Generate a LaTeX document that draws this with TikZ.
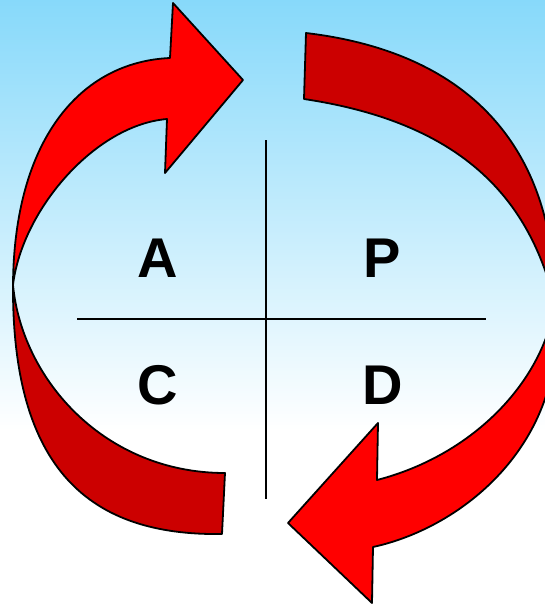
\documentclass[tikz,border=0pt]{standalone}
\usepackage{fontspec}
\setmainfont{Liberation Sans}
\usepackage{xcolor}
\usepackage{tikz}
\definecolor{skyblue}{RGB}{135, 217, 250}
\definecolor{arrowred}{RGB}{255, 0, 0}
\definecolor{arrowdark}{RGB}{204, 0, 0}
\tikzset{
    frontface/.style={fill=arrowred, draw=black, line width=1.8pt, line join=round},
    backface/.style={fill=arrowdark, draw=black, line width=1.8pt, line join=round},
    quadlabel/.style={font=\fontsize{56}{60}\selectfont\bfseries, anchor=base, inner sep=0pt},
    crossline/.style={draw=black, line width=1.8pt}
}

\begin{document}
\begin{tikzpicture}[x=1pt, y=-1pt]
    \useasboundingbox (0,0) rectangle (545,606);
    \clip (0,0) rectangle (545,606);

    % Background gradient (sky blue fading to white)
    \shade[top color=skyblue, bottom color=white] (0,0) rectangle (545,430);
    \fill[white] (0,430) rectangle (545,606);

    % Key points of the left arrow
    \coordinate (LPinch) at (13,285);
    \coordinate (LTailOut) at (222,534);
    \coordinate (LTailIn) at (225,473);
    \coordinate (LHeadOut) at (170,58);
    \coordinate (LHeadIn) at (167,119);
    \coordinate (LBarbTop) at (173,3);
    \coordinate (LTip) at (243,80);
    \coordinate (LBarbBot) at (165,173);

    % Key points of the right arrow
    \coordinate (RPinch) at (555,304);
    \coordinate (RTailOut) at (306,33);
    \coordinate (RTailIn) at (304,99);
    \coordinate (RHeadOut) at (373,547);
    \coordinate (RHeadIn) at (377,480);
    \coordinate (RBarbTop) at (378,423);
    \coordinate (RTip) at (288,523);
    \coordinate (RBarbBot) at (372,603);

    % Cross lines
    \draw[crossline] (266,140) -- (266,499);
    \draw[crossline] (77,319) -- (486,319);

    % Left arrow: back face (tail) and front face (head)
    \draw[backface] (LPinch) .. controls (12,470) and (90,536) .. (LTailOut)
        -- (LTailIn) .. controls (105,473) and (22,380) .. (LPinch) -- cycle;
    \draw[frontface] (LPinch) .. controls (14,140) and (80,62) .. (LHeadOut)
        -- (LBarbTop) -- (LTip) -- (LBarbBot) -- (LHeadIn)
        .. controls (95,125) and (22,210) .. (LPinch) -- cycle;

    % Right arrow: back face (tail) and front face (head)
    \draw[backface] (RTailOut) .. controls (466,52) and (555,144) .. (RPinch)
        .. controls (530,200) and (464,123) .. (RTailIn) -- cycle;
    \draw[frontface] (RPinch) .. controls (570,440) and (465,527) .. (RHeadOut)
        -- (RBarbBot) -- (RTip) -- (RBarbTop) -- (RHeadIn)
        .. controls (470,456) and (542,385) .. (RPinch) -- cycle;

    % Quadrant letters
    \node[quadlabel] (act) at (157.5,277) {A};
    \node[quadlabel] (plan) at (382,277) {P};
    \node[quadlabel] (check) at (157.5,404) {C};
    \node[quadlabel] (do) at (383,404) {D};
\end{tikzpicture}
\end{document}
